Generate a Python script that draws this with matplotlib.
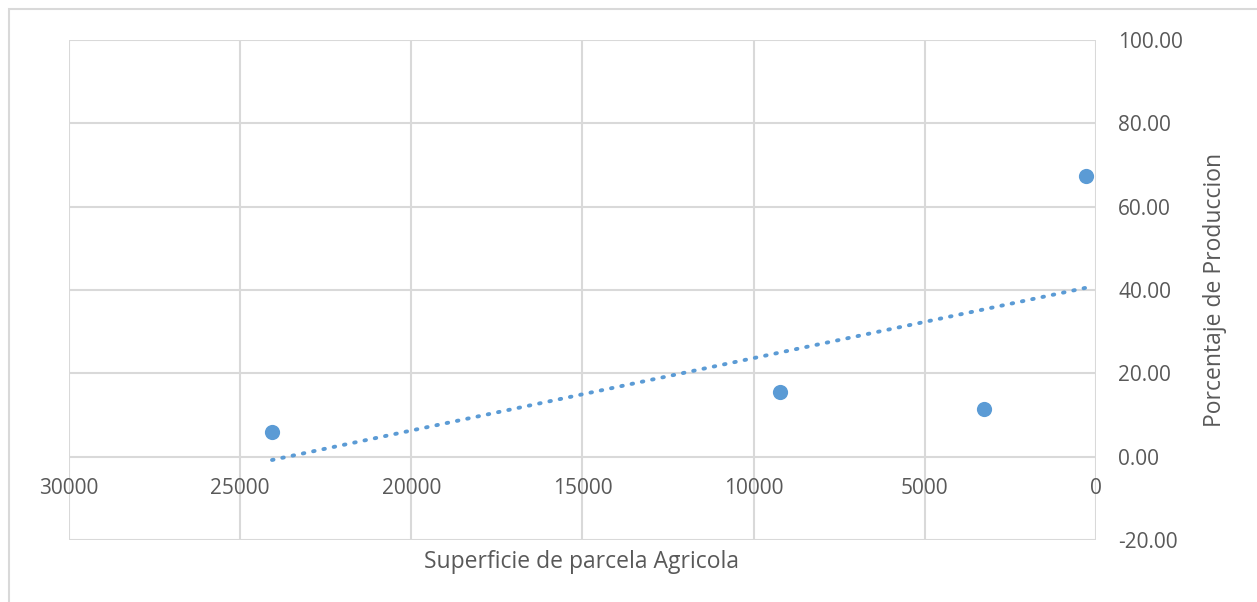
import numpy as np
import matplotlib.pyplot as plt
from matplotlib.patches import Rectangle

# datos
superficie = [24070, 9230, 3270, 290]
porcentaje = [5.8, 15.4, 11.5, 67.4]
xticks = [30000, 25000, 20000, 15000, 10000, 5000, 0]
yticks = [-20, 0, 20, 40, 60, 80, 100]

blue = '#5B9BD5'
grey = '#595959'
plt.rcParams['font.family'] = ['Open Sans', 'DejaVu Sans']

fig = plt.figure(figsize=(12.57, 6.02), dpi=100)
ax = fig.add_axes([69/1257, 1-540/602, (1096-69)/1257, 500/602])

# linea de tendencia (regresion lineal)
m, b = np.polyfit(superficie, porcentaje, 1)
xt = np.array([max(superficie), min(superficie)])
ax.plot(xt, m*xt+b, linestyle=(0, (0.4, 2.3)), dash_capstyle='round',
        color=blue, linewidth=2.8, zorder=2)
ax.scatter(superficie, porcentaje, s=120, color=blue, zorder=3, linewidths=0)

ax.set_xlim(30000, 0)
ax.set_ylim(-20, 100)
ax.set_xticks(xticks)
ax.set_yticks(yticks)
ax.set_yticklabels(['%.2f' % v for v in yticks])
ax.grid(True, color='#d9d9d9', linewidth=1.5, zorder=0)
ax.set_axisbelow(True)
for s in ax.spines.values():
    s.set_visible(False)
ax.spines['bottom'].set_position(('data', 0))
ax.yaxis.tick_right()
ax.yaxis.set_label_position('right')
ax.tick_params(axis='both', length=0, labelsize=15, labelcolor=grey)
ax.tick_params(axis='x', pad=15)
ax.tick_params(axis='y', pad=16)
ax.set_ylabel('Porcentaje de Produccion', fontsize=16.5, color=grey, labelpad=14)
fig.text(582/1257, 1-562/602, 'Superficie de parcela Agricola', fontsize=16.5,
         color=grey, ha='center', va='center')

fig.patches.append(Rectangle((9/1257, -0.1), 1.2, 1-9/602+0.1, transform=fig.transFigure,
                             fill=False, edgecolor='#d9d9d9', linewidth=1.5))

plt.savefig('out.png')
